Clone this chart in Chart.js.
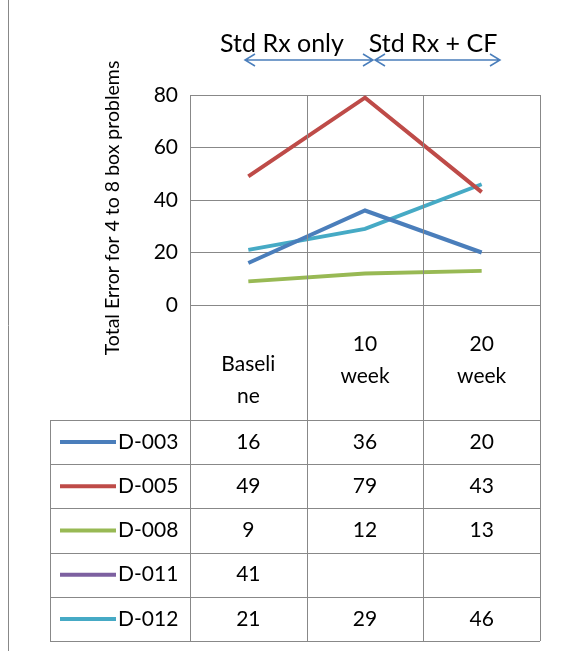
<!DOCTYPE html>
<html><head><meta charset="utf-8">
<script src="https://cdn.jsdelivr.net/npm/chart.js@4"></script>
<style>html,body{margin:0;padding:0;background:#fff}#c{display:block}</style>
</head><body>
<div style="width:563px;height:651px"><canvas id="c"></canvas></div>
<script>
const categories = [["Baseli", "ne"], ["10", "week"], ["20", "week"]];
const seriesNames = ["D-003", "D-005", "D-008", "D-011", "D-012"];
const d003 = [16, 36, 20];
const d005 = [49, 79, 43];
const d008 = [9, 12, 13];
const d011 = [41, null, null];
const d012 = [21, 29, 46];
const colors = ["#4a7ebb", "#be4b48", "#98b954", "#7d60a0", "#46aac5"];
const values = [d003, d005, d008, d011, d012];
const FONT = "Lato, 'Open Sans', sans-serif";

const tablePlugin = {
  id: "tablePlugin",
  afterDraw(chart) {
    const ctx = chart.ctx, a = chart.chartArea;
    const rowTop = 420, rowH = 44.2, bottom = rowTop + rowH * 5;
    const colW = (a.right - a.left) / 3;
    ctx.save();
    ctx.strokeStyle = "#888"; ctx.lineWidth = 1;
    // frame
    ctx.beginPath();
    ctx.moveTo(8.5, 0); ctx.lineTo(8.5, 651);
    ctx.stroke();
    // vertical lines
    ctx.beginPath();
    for (let i = 0; i <= 3; i++) {
      const x = Math.round(a.left + colW * i) + 0.5;
      ctx.moveTo(x, a.top); ctx.lineTo(x, bottom);
    }
    ctx.moveTo(50.5, rowTop); ctx.lineTo(50.5, bottom);
    for (let r = 0; r <= 5; r++) {
      const y = Math.round(rowTop + rowH * r) + 0.5;
      ctx.moveTo(50, y); ctx.lineTo(a.right, y);
    }
    ctx.stroke();
    // headers
    ctx.fillStyle = "#000"; ctx.font = "21px " + FONT;
    ctx.textAlign = "center"; ctx.textBaseline = "middle";
    categories.forEach((c, i) => {
      const cx = a.left + colW * (i + 0.5);
      const y0 = i === 0 ? 364 : 344;
      c.forEach((t, j) => ctx.fillText(t, cx, y0 + j * 32));
    });
    // rows
    seriesNames.forEach((n, r) => {
      const cy = rowTop + rowH * (r + 0.5);
      ctx.strokeStyle = colors[r]; ctx.lineWidth = 4;
      ctx.beginPath(); ctx.moveTo(60, cy); ctx.lineTo(116, cy); ctx.stroke();
      ctx.textAlign = "left"; ctx.fillText(n, 118, cy);
      ctx.textAlign = "center";
      values[r].forEach((v, i) => {
        if (v !== null) ctx.fillText(String(v), a.left + colW * (i + 0.5), cy);
      });
    });
    // y title
    ctx.save();
    ctx.translate(113, 208); ctx.rotate(-Math.PI / 2);
    ctx.font = "19.5px " + FONT;
    ctx.fillText("Total Error for 4 to 8 box problems", 0, 0);
    ctx.restore();
    // top arrows
    ctx.font = "25px " + FONT;
    ctx.fillText("Std Rx only", 282, 44);
    ctx.fillText("Std Rx + CF", 433, 44);
    ctx.strokeStyle = "#4a7ebb"; ctx.lineWidth = 1.5;
    const arrow = (x1, x2, y) => {
      ctx.beginPath(); ctx.moveTo(x1, y); ctx.lineTo(x2, y);
      ctx.moveTo(x1 + 10, y - 6); ctx.lineTo(x1, y); ctx.lineTo(x1 + 10, y + 6);
      ctx.moveTo(x2 - 10, y - 6); ctx.lineTo(x2, y); ctx.lineTo(x2 - 10, y + 6);
      ctx.stroke();
    };
    arrow(245, 373, 60); arrow(375, 500, 60);
    ctx.restore();
  }
};

new Chart(document.getElementById("c"), {
  type: "line",
  data: {
    labels: categories.map(c => c.join("")),
    datasets: seriesNames.map((n, i) => ({
      label: n, data: values[i], borderColor: colors[i], backgroundColor: colors[i],
      borderWidth: 4, pointRadius: 0, tension: 0, spanGaps: false,
    })),
  },
  options: {
    responsive: true, maintainAspectRatio: false, animation: false,
    layout: { padding: { left: 90, right: 23, top: 95, bottom: 346 } },
    plugins: { legend: { display: false }, tooltip: { enabled: false } },
    scales: {
      x: { display: false, offset: true },
      y: {
        min: 0, max: 80,
        ticks: { stepSize: 20, color: "#000", font: { size: 21, family: FONT }, padding: 12 },
        grid: { color: "#888", drawTicks: false },
        border: { display: false },
        afterFit(s) { s.width = 100; },
      },
    },
  },
  plugins: [tablePlugin],
});
</script>
</body></html>
